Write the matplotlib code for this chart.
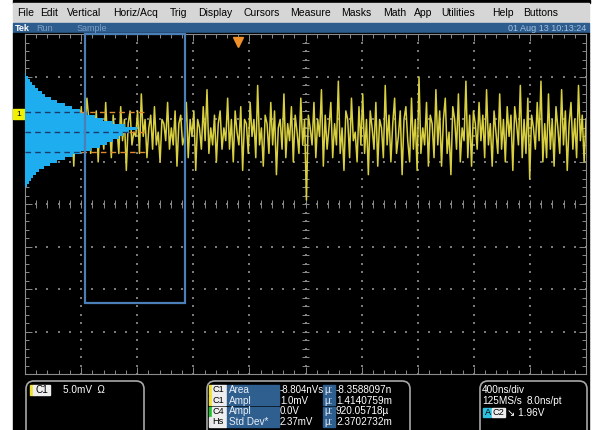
import matplotlib.pyplot as plt
import numpy as np
from matplotlib.patches import Rectangle, FancyBboxPatch

plt.rcParams['font.family'] = ['Liberation Sans', 'DejaVu Sans']

W, H = 601, 430

menu_items = ["File", "Edit", "Vertical", "Horiz/Acq", "Trig", "Display", "Cursors",
              "Measure", "Masks", "Math", "App", "Utilities", "Help", "Buttons"]
menu_x = [17, 40, 67, 113, 170, 198, 243, 290, 341, 383, 414, 441, 492, 523]

status_left = [("Tek", 15, 'white', 'bold'), ("Run", 36, '#7f9fc4', 'normal'),
               ("Sample", 77, '#7f9fc4', 'normal')]
status_date = "01 Aug 13 10:13:24"

# waveform: C1, 5.0mV/div, deviation from the mean level (divisions)
wave_mean = 1.69
wave_dev = [
    0.2, -0.3, 0.5, -0.2, 0.1, 0.6, -0.4, -0.1, 0.3, -0.7, 0.2, 0.4, -0.3, 0.5, -0.1, 0.7, -0.5, 0.1, -0.2, 0.4,
    -0.6, 0.3, 0.0, 0.5, -0.3, 0.2, -0.8, 0.4, 0.1, -0.2, 0.6, -0.4, 0.1, 0.8, 0.3, -0.5, 0.3, -0.1, 0.5, -0.7,
    0.3, 0.0, -0.4, 0.7, -0.2, 0.2, -0.6, 0.4, -0.1, 0.1, -0.5, 0.6, -0.2, 0.3, -0.9, 0.2, 0.5, -0.3, 0.0, -0.1,
    0.5, -0.5, 0.9, -0.1, 0.3, -0.6, 0.1, 0.4, -0.4, 0.6, -0.3, 0.0, -0.7, 0.3, 0.2, -0.2, 0.7, -0.4, 0.1, -0.3,
    0.5, -0.8, 0.2, 0.4, -0.3, -0.1, 0.7, -0.6, 0.3, -0.1, 0.5, -0.9, 0.3, 0.1, -0.4, 0.6, -0.2, 1.0, -0.5, 0.1,
    -0.3, 0.4, -0.7, 0.2, 0.5, -0.4, 0.1, -0.2, 0.8, -0.4, 0.3, -0.7, 0.5, 0.0, -0.3, 0.6, -0.9, 0.3, 0.2, -0.5,
    0.7, -0.1, 0.3, -0.6, 1.1, -0.3, 0.1, -0.8, 0.4, 0.2, -0.5, 0.7, -0.3, 0.5, -1.0, 0.1, 0.3, -0.4, 0.9, -0.6,
    0.2, -0.2, 0.6, -0.7, 0.4, 0.0, -0.5, 0.8, -0.3, 0.3, -1.6, 0.4, 0.1, -0.3, 0.7, -0.6, 0.3, -0.1, 1.0, -0.8,
    0.4, -0.4, 0.1, 0.7, -0.6, 0.2, -0.3, 1.2, -0.5, 0.1, -0.9, 0.5, 0.3, -0.6, 0.8, -0.2, 0.0, -0.7, 0.6, -0.3,
    0.9, -0.5, 0.3, -1.0, 0.5, 0.1, -0.4, 0.7, -0.8, 0.3, 0.1, -0.6, 1.1, -0.3, 0.4, -0.7, 0.2, 0.8, -0.5, -0.1,
    0.5, -1.0, 0.3, 0.6, -0.2, -0.7, 0.8, -0.4, 0.3, -0.9, 1.3, -0.5, 0.1, -0.3, 0.7, -0.8, 0.4, 0.2, -0.6, 1.0,
    -0.3, 0.5, -0.8, 0.3, 0.8, -0.5, 0.0, -1.0, 0.6, 0.3, -0.4, 0.9, -0.7, 0.1, -0.2, 1.2, -0.6, 0.4, -0.8, 0.5,
    0.2, -0.4, 0.7, -0.2, 0.4, -0.6, 1.0, -0.3, 0.2, -0.8, 0.5, 0.0, -0.5, 0.9, -0.4, 0.3, -0.7, 0.6, -0.1, 0.4,
    -0.9, 0.6, 0.2, -0.3, 1.1, -0.6, 0.3, -0.5, 0.8, -1.1, 0.4, 0.1, -0.4, 0.7, -0.2, 1.2, -0.7, 0.2, -0.6, 0.9,
    -0.4, 0.3, -0.8, 0.6, 0.1, -0.5, 1.0, -0.3, 0.5, -0.9, 0.2, 0.7, -0.4, 0.3, -0.6, 1.1, -0.2, 0.4, -0.7, 0.3,
]

# histogram (waveform db hits), bins from top to bottom
hist_top, hist_bottom = 3.08, 0.40
hist_hits = [1, 3, 5, 7, 10, 13, 17, 20, 26, 32, 40, 47, 55, 62, 70, 78, 88, 100, 112,
             104, 98, 94, 88, 82, 75, 66, 56, 48, 40, 32, 25, 19, 14, 11, 8, 6, 4, 2]
hist_mean, hist_sigma = 1.69, 0.474
hist_box = (1.07, 2.86, -2.33, 4.0)   # left, right, bottom, top (divisions)

meas_rows = [
    ("#f0e030", "C1", "Area", "-8.804nVs", "-8.3588097n"),
    ("#f0e030", "C1", "Ampl", "1.0mV", "1.4140759m"),
    ("#20c030", "C4", "Ampl", "0.0V", "920.05718µ"),
    ("#e8e8e8", "Hs", "Std Dev*", "2.37mV", "2.3702732m"),
]

fig = plt.figure(figsize=(6.01, 4.30), dpi=100, facecolor='white')
bg = fig.add_axes([0, 0, 1, 1])
bg.set_xlim(0, W)
bg.set_ylim(H, 0)
bg.axis('off')

# frame of the scope screen
bg.add_patch(Rectangle((13, 0), 577, 3, color='black'))
bg.add_patch(Rectangle((13, 3), 576, 20, color='#d6d6d6'))
bg.add_patch(Rectangle((13, 23), 576, 10, color='#2d5d8e'))
bg.add_patch(Rectangle((13, 33), 576, 397, color='black'))

for name, x in zip(menu_items, menu_x):
    bg.text(x, 13.5, name, fontsize=7.5, color='black', va='center', ha='left')
for name, x, c, w in status_left:
    bg.text(x, 28.5, name, fontsize=6.5, color=c, weight=w, va='center', ha='left')
bg.text(586, 28.5, status_date, fontsize=6.5, color='#a6c2e0', va='center', ha='right')

# channel 1 marker
bg.add_patch(Rectangle((13, 109), 12, 10, color='#f0f000'))
bg.text(19, 114.5, "1", fontsize=6, color='black', ha='center', va='center')

# bottom readout panels
for x0, w in [(26, 118), (207, 203), (480, 107)]:
    bg.add_patch(FancyBboxPatch((x0, 381), w, 60, boxstyle='round,pad=0,rounding_size=8',
                                fc='black', ec='#a8a8a8', lw=1.2))

fs = 7.2
bg.add_patch(Rectangle((30, 385), 3, 10, color='#f0e030'))
bg.add_patch(Rectangle((33, 385), 17, 10, color='#eeeeee'))
bg.text(35, 390, "C1", fontsize=fs, color='black', va='center')
bg.text(63, 390, "5.0mV  Ω", fontsize=fs, color='white', va='center')

for i, (c, ch, name, val, mu) in enumerate(meas_rows):
    y = 390 + i * 10.6
    bg.add_patch(Rectangle((209, y - 4.7), 3, 9.4, color=c))
    bg.add_patch(Rectangle((212, y - 4.7), 14, 9.4, color='#eeeeee'))
    bg.text(212.5, y, ch, fontsize=6.6, color='black', va='center')
    bg.add_patch(Rectangle((227, y - 4.7), 52, 9.4, color='#2f5f8f'))
    bg.text(229, y, name, fontsize=fs, color='#e8eef6', va='center')
    bg.text(280, y, val, fontsize=7.0, color='white', va='center')
    bg.add_patch(Rectangle((323, y - 4.7), 12, 9.4, color='#2f5f8f'))
    bg.text(324, y, "µ:", fontsize=fs, color='#e8eef6', va='center')
    bg.text(336, y, mu, fontsize=fs, color='white', va='center')

bg.text(482, 390, "400ns/div", fontsize=fs, color='white', va='center')
bg.text(482, 401.5, "125MS/s", fontsize=fs, color='white', va='center')
bg.text(527, 401.5, "8.0ns/pt", fontsize=fs, color='white', va='center')
bg.add_patch(Rectangle((483, 408), 8, 9.4, color='#30c0e0'))
bg.text(484.5, 412.7, "A", fontsize=6.6, color='black', va='center')
bg.add_patch(Rectangle((492, 408), 13, 9.4, color='#eeeeee'))
bg.text(492.5, 412.7, "C2", fontsize=6.6, color='black', va='center')
bg.text(507, 412.7, "↘ 1.96V", fontsize=fs, color='white', va='center')

# graticule screen, 10 x 8 divisions
ax = fig.add_axes([25 / W, (H - 374) / H, 561 / W, 340 / H], facecolor='black')
ax.set_xlim(0, 10)
ax.set_ylim(-4, 4)
grid_col = '#8c8c8c'
for s in ax.spines.values():
    s.set_color(grid_col)
    s.set_linewidth(0.8)
ax.set_xticks(np.arange(0, 11, 1))
ax.set_yticks(np.arange(-4, 5, 1))
ax.set_xticks(np.arange(0, 10.01, 0.2), minor=True)
ax.set_yticks(np.arange(-4, 4.01, 0.2), minor=True)
ax.tick_params(which='both', direction='in', top=True, right=True, colors=grid_col,
               labelbottom=False, labelleft=False, width=0.7)
ax.tick_params(which='major', length=5)
ax.tick_params(which='minor', length=3)

yf = np.arange(-4, 4.01, 0.2)
xf = np.arange(0, 10.01, 0.2)
for i in range(1, 10):
    ax.scatter(np.full(len(yf), i), yf, s=0.9, color='#7a7a7a', marker='s', linewidths=0, zorder=1)
for j in range(-3, 4):
    ax.scatter(xf, np.full(len(xf), j), s=0.9, color='#7a7a7a', marker='s', linewidths=0, zorder=1)
ax.hlines(yf, 4.93, 5.07, color=grid_col, lw=0.7, zorder=1)
ax.vlines(xf, -0.09, 0.09, color=grid_col, lw=0.7, zorder=1)

# waveform
t = np.linspace(0, 10, len(wave_dev))
ax.plot(t, wave_mean + np.array(wave_dev), color='#d8d040', lw=1.1, zorder=2)

# histogram
edges = np.linspace(hist_top, hist_bottom, len(hist_hits) + 1)
hh = np.array(hist_hits, dtype=float)
widths = hh / hh.max() * 2.0
ax.barh((edges[:-1] + edges[1:]) / 2, widths, height=edges[0] - edges[1], left=0,
        color='#1eaef0', edgecolor='none', zorder=3)

for lvl in [hist_mean + hist_sigma, hist_mean, hist_mean - hist_sigma]:
    k = np.argmin(np.abs((edges[:-1] + edges[1:]) / 2 - lvl))
    ax.plot([widths[k], 2.14], [lvl, lvl], color='#e08a30', lw=1.0, ls=(0, (4, 3)), zorder=4)
    ax.plot([0, widths[k]], [lvl, lvl], color='#1a3a6a', lw=1.0, ls=(0, (4, 3)), zorder=4)

# histogram box
l, r, b, tp = hist_box
ax.add_patch(Rectangle((l, b), r - l, tp - b, fill=False, ec='#4a7fb8', lw=1.6,
                       clip_on=False, zorder=5))

# trigger position marker
ax.plot([3.8], [3.82], marker='v', markersize=7, color='#f0902a', clip_on=False, zorder=6)

fig.savefig('out.png', dpi=100, facecolor='white')
